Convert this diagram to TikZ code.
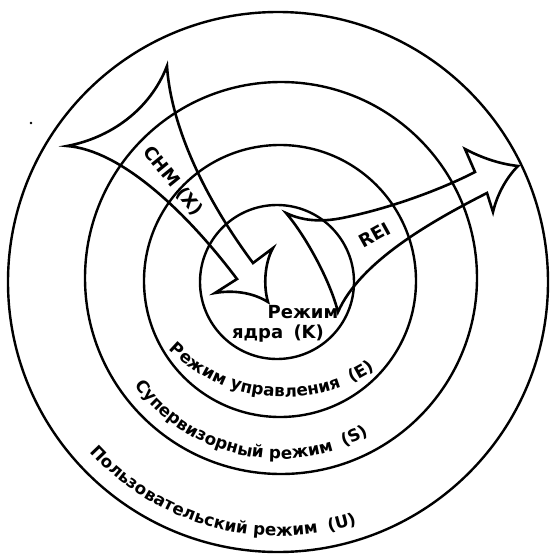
\documentclass[tikz,border=0pt]{standalone}
\usepackage{fontspec}
\setmainfont{DejaVu Sans}
\usepackage{tikz}
\usetikzlibrary{decorations.text}

\begin{document}
\begin{tikzpicture}[x=1pt,y=-1pt,
    ring/.style={line width=2.4pt},
    flow/.style={line width=2.6pt,line join=miter,miter limit=20},
    lbl/.style={font=\fontsize{18}{20}\selectfont\bfseries,inner sep=0pt},
    ringtext/.style={decorate,decoration={text along path,text align=center,
        text={|\fontsize{16.8}{19}\selectfont\bfseries|#1}}}]
    \useasboundingbox (0,0) rectangle (550,555);
    % the four rings
    \draw[ring] (278,282) circle[radius=270];
    \draw[ring] (281,278) circle[radius=196];
    \draw[ring] (280,281) circle[radius=136];
    \draw[ring] (277,282) circle[radius=77];
    \fill (31,123) circle[radius=1.3];
    % CHM arrow, into the kernel
    \draw[flow] (167,66) .. controls (170,115) and (195,185) .. (253,263)
        -- (273,248) .. controls (265,262) and (263,285) .. (268,302)
        .. controls (252,292) and (232,290) .. (215,293)
        -- (237,279) .. controls (185,210) and (120,150) .. (67,146)
        .. controls (110,138) and (150,110) .. (167,66) -- cycle;
    % REI arrow, out of the kernel
    \draw[flow] (286,213) .. controls (305,222) and (325,222) .. (347,217)
        .. controls (390,208) and (440,190) .. (475,172)
        -- (465,149) .. controls (482,158) and (500,164) .. (518,166)
        .. controls (506,178) and (497,195) .. (493,212)
        -- (487,193) .. controls (430,222) and (360,262) .. (338,312)
        .. controls (330,280) and (305,235) .. (286,213) -- cycle;
    \node[lbl,rotate=-51] (chm) at (173,181) {CHM (X)};
    \node[lbl,rotate=29] (rei) at (375,235) {REI};
    \node[lbl] (kmode) at (303,312) {Режим};
    \node[lbl] (kcore) at (278,334) {ядра\hspace{4pt} (K)};
    % labels along the rings
    \begin{scope}[shift={(284,234)}]
        \path[ringtext={Режим управления{\kern5pt} (E)}] (185.5:163) arc[start angle=185.5,end angle=5.5,radius=163];
    \end{scope}
    \begin{scope}[shift={(279,281)}]
        \path[ringtext={Супервизорный режим{\kern5pt} (S)}] (192:178) arc[start angle=192,end angle=12,radius=178];
        \path[ringtext={Пользовательский режим{\kern5pt} (U)}] (185:255) arc[start angle=185,end angle=25,radius=255];
    \end{scope}
\end{tikzpicture}
\end{document}
